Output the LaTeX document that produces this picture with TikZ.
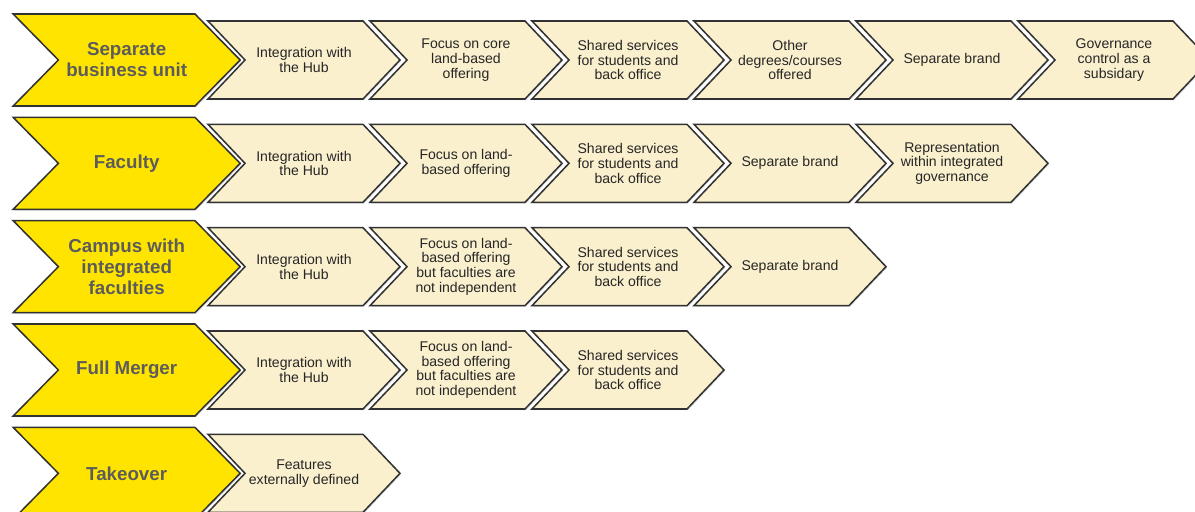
\documentclass[tikz,border=0pt]{standalone}
\usepackage{fontspec}
\setmainfont{Liberation Sans}
\definecolor{stageyellow}{RGB}{255, 228, 0}
\definecolor{stepcream}{RGB}{250, 240, 206}
\definecolor{edgegrey}{RGB}{50, 50, 50}
\definecolor{labelgrey}{RGB}{92, 92, 92}
\usepackage{tikz}
\usetikzlibrary{shapes.symbols, shadows}

\begin{document}
\begin{tikzpicture}[
  stage/.style={signal, signal from=west, signal to=east, signal pointer angle=91,
    draw=edgegrey, line width=1.3pt, fill=stageyellow, minimum width=6.81cm, minimum height=2.76cm,
    inner sep=0pt, align=center, text=labelgrey, font=\fontsize{16}{18}\selectfont\bfseries,
    drop shadow={shadow xshift=1pt, shadow yshift=-1pt, opacity=0.25}},
  feature/.style={signal, signal from=west, signal to=east, signal pointer angle=93,
    draw=edgegrey, line width=1.3pt, fill=stepcream, minimum width=5.76cm, minimum height=2.34cm,
    inner sep=0pt, align=center, text=black!85, font=\fontsize{12}{12.5}\selectfont,
    drop shadow={shadow xshift=1pt, shadow yshift=-1pt, opacity=0.25}}
]
  \clip (0, 0) rectangle (35.85, -15.36);

  % separate business unit
  \node[stage] (sbu) at (3.8, -1.8) {Separate\\business unit};
  \node[feature] (sbu1) at (9.12, -1.8) {Integration with\\the Hub};
  \node[feature] (sbu2) at (13.98, -1.8) {Focus on core\\land-based\\offering};
  \node[feature] (sbu3) at (18.84, -1.8) {Shared services\\for students and\\back office};
  \node[feature] (sbu4) at (23.70, -1.8) {Other\\degrees/courses\\offered};
  \node[feature] (sbu5) at (28.56, -1.8) {Separate brand};
  \node[feature] (sbu6) at (33.42, -1.8) {Governance\\control as a\\subsidary};

  % faculty
  \node[stage] (fac) at (3.8, -4.9) {Faculty};
  \node[feature] (fac1) at (9.12, -4.9) {Integration with\\the Hub};
  \node[feature] (fac2) at (13.98, -4.9) {Focus on land-\\based offering};
  \node[feature] (fac3) at (18.84, -4.9) {Shared services\\for students and\\back office};
  \node[feature] (fac4) at (23.70, -4.9) {Separate brand};
  \node[feature] (fac5) at (28.56, -4.9) {Representation\\within integrated\\governance};

  % campus with integrated faculties
  \node[stage] (cif) at (3.8, -8.0) {Campus with\\integrated\\faculties};
  \node[feature] (cif1) at (9.12, -8.0) {Integration with\\the Hub};
  \node[feature] (cif2) at (13.98, -8.0) {Focus on land-\\based offering\\but faculties are\\not independent};
  \node[feature] (cif3) at (18.84, -8.0) {Shared services\\for students and\\back office};
  \node[feature] (cif4) at (23.70, -8.0) {Separate brand};

  % full merger
  \node[stage] (mrg) at (3.8, -11.1) {Full Merger};
  \node[feature] (mrg1) at (9.12, -11.1) {Integration with\\the Hub};
  \node[feature] (mrg2) at (13.98, -11.1) {Focus on land-\\based offering\\but faculties are\\not independent};
  \node[feature] (mrg3) at (18.84, -11.1) {Shared services\\for students and\\back office};

  % takeover
  \node[stage] (tko) at (3.8, -14.2) {Takeover};
  \node[feature] (tko1) at (9.12, -14.2) {Features\\externally defined};
\end{tikzpicture}
\end{document}
